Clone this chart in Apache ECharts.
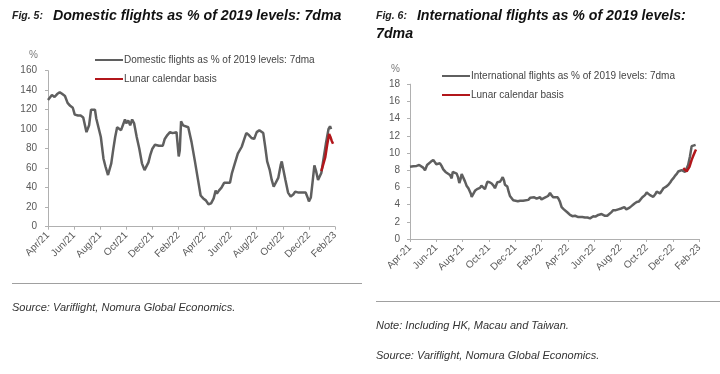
<!DOCTYPE html>
<html>
<head>
<meta charset="utf-8">
<script src="https://cdn.jsdelivr.net/npm/echarts@6/dist/echarts.min.js"></script>
<style>
html,body{margin:0;padding:0;background:#fff;}
#c{width:720px;height:374px;}
</style>
</head>
<body>
<div id="c"></div>
<script>
// ---- Fig. 5: Domestic flights (x = months since Apr 2021) ----
const domMonths = [0,0.15,0.3,0.5,0.7,0.9,1.1,1.3,1.5,1.7,1.9,2.05,2.3,2.5,2.7,2.85,2.95,3.05,3.15,3.3,3.45,3.6,3.7,3.85,4.05,4.25,4.4,4.5,4.6,4.72,4.85,5.0,5.15,5.3,5.45,5.6,5.75,5.9,6.0,6.15,6.3,6.45,6.6,6.8,7.0,7.2,7.4,7.55,7.7,7.85,8.0,8.2,8.5,8.8,8.95,9.15,9.35,9.55,9.7,9.85,9.95,10.02,10.1,10.2,10.35,10.5,10.75,11.0,11.25,11.5,11.7,11.9,12.1,12.3,12.5,12.7,12.85,12.95,13.1,13.3,13.5,13.75,13.95,14.1,14.3,14.55,14.85,15.05,15.2,15.4,15.6,15.8,16.0,16.2,16.35,16.5,16.65,16.8,17.0,17.15,17.3,17.45,17.65,17.85,17.92,18.05,18.2,18.4,18.6,18.8,18.95,19.2,19.45,19.6,19.75,19.9,20.0,20.15,20.3,20.42,20.55,20.7,20.85,20.95,21.1,21.3,21.5,21.62,21.7];
const domValues = [130,132,135,133,136,138,136,134,127,124,122,115,114,114,112,111,97,99,104,120,122,120,111,109,92,70,62,60,53,53,65,79,92,102,101,99,97,110,106,109,104,110,106,92,80,65,58,60,66,74,80,84,83,83,90,94,97,96,94,97,99,72,78,108,104,104,102,87,68,48,32,29,27,23,24,29,37,34,37,40,45,45,45,55,64,75,82,90,96,94,91,90,97,99,100,96,82,67,58,48,41,42,50,64,67,58,48,35,31,33,36,35,35,36,35,30,26,30,48,63,57,48,50,55,68,85,100,103,100];
const domLunarMonths = [20.95,21.1,21.25,21.4,21.55,21.65,21.75,21.85];
const domLunarValues = [57,64,71,84,95,92,88,85];
const domTickLabels = ['Apr/21','Jun/21','Aug/21','Oct/21','Dec/21','Feb/22','Apr/22','Jun/22','Aug/22','Oct/22','Dec/22','Feb/23'];

// ---- Fig. 6: International flights ----
const intlMonths = [0,0.25,0.5,0.7,0.85,1.0,1.14,1.3,1.45,1.6,1.77,1.9,2.0,2.1,2.28,2.4,2.53,2.7,2.85,3.04,3.17,3.25,3.4,3.55,3.65,3.75,3.85,3.93,4.06,4.18,4.3,4.44,4.55,4.62,4.69,4.82,4.94,5.1,5.32,5.43,5.53,5.7,5.88,6.05,6.21,6.35,6.46,6.64,6.84,6.95,7.05,7.15,7.22,7.4,7.5,7.6,7.73,7.85,7.98,8.2,8.37,8.6,8.75,9.0,9.15,9.25,9.45,9.63,9.75,9.89,10.0,10.09,10.25,10.4,10.5,10.65,10.75,10.9,11.05,11.23,11.32,11.4,11.53,11.7,11.84,12.0,12.17,12.35,12.55,12.68,12.8,12.93,13.1,13.31,13.5,13.69,13.8,13.94,14.1,14.32,14.57,14.7,14.83,15.0,15.13,15.3,15.46,15.65,15.84,16.05,16.3,16.45,16.55,16.7,16.86,17.05,17.24,17.4,17.5,17.67,17.87,18.0,18.1,18.25,18.4,18.5,18.65,18.76,18.9,19.01,19.15,19.27,19.45,19.65,19.8,19.9,20.05,20.15,20.3,20.4,20.55,20.66,20.8,20.91,21.04,21.15,21.29,21.42,21.55,21.72];
const intlValues = [8.4,8.45,8.5,8.6,8.55,8.3,8.0,8.6,8.8,9.0,9.2,9.1,8.7,8.6,8.8,8.5,8.1,7.8,7.6,7.45,7.05,7.8,7.7,7.6,7.2,6.5,7.0,7.55,7.6,6.7,6.2,5.9,5.8,5.3,4.9,4.85,5.6,5.8,5.95,6.2,6.0,5.8,6.65,6.6,6.45,6.2,5.9,6.6,6.65,6.9,7.2,6.8,6.3,6.1,5.5,5.0,4.85,4.5,4.35,4.4,4.45,4.45,4.45,4.55,4.8,5.0,4.85,4.7,4.85,4.85,4.6,4.45,4.8,4.85,5.0,5.35,5.1,4.85,4.8,4.85,4.6,4.35,3.7,3.45,3.3,3.05,2.8,2.65,2.7,2.8,2.55,2.5,2.55,2.5,2.5,2.4,2.55,2.65,2.6,2.8,2.9,2.85,2.7,2.7,2.8,3.1,3.35,3.35,3.45,3.55,3.7,3.45,3.45,3.65,3.85,4.1,4.3,4.35,4.45,4.85,5.1,5.4,5.3,5.1,5.0,4.9,5.2,5.5,5.45,5.3,5.6,5.9,6.05,6.3,6.6,6.85,7.1,7.35,7.6,7.85,7.95,8.0,7.9,7.8,8.0,8.6,9.6,10.8,10.85,10.95];
const intlLunarMonths = [20.78,20.9,21.04,21.15,21.25,21.42,21.55,21.67,21.75];
const intlLunarValues = [8.25,8.1,7.85,7.95,8.4,9.2,9.7,10.15,10.4];
const intlTickLabels = ['Apr-21','Jun-21','Aug-21','Oct-21','Dec-21','Feb-22','Apr-22','Jun-22','Aug-22','Oct-22','Dec-22','Feb-23'];

const domName = 'Domestic flights as % of 2019 levels: 7dma';
const intlName = 'International flights as % of 2019 levels: 7dma';
const lunarName = 'Lunar calendar basis';

const FONT = '"Liberation Sans", Arial, sans-serif';
const GRAY = '#5f5f5f';
const RED = '#b2161b';
const AXIS = '#b0b0b0';
const TXT = '#595959';

function pairs(xs, ys){ return xs.map((x,i)=>[x, ys[i]]); }

function xAxisCfg(gridIndex, labels){
  return {
    type:'value', gridIndex, min:0, max:22, interval:2,
    axisLine:{show:true, lineStyle:{color:AXIS, width:1}},
    axisTick:{show:true, length:3, lineStyle:{color:AXIS}},
    splitLine:{show:false},
    axisLabel:{rotate:45, margin:7, fontSize:10, color:TXT, fontFamily:FONT,
      formatter:v=>labels[Math.round(v/2)]}
  };
}
function yAxisCfg(gridIndex, max, interval, margin){
  return {
    type:'value', gridIndex, min:0, max, interval,
    name:'%', nameLocation:'end', nameGap:10,
    nameTextStyle:{fontSize:10, color:'#7a7a7a', fontFamily:FONT, align:'right', padding:[0,10,0,0]},
    axisLine:{show:true, lineStyle:{color:AXIS, width:1}},
    axisTick:{show:true, length:3, lineStyle:{color:AXIS}},
    splitLine:{show:false},
    axisLabel:{margin, fontSize:10, color:TXT, fontFamily:FONT}
  };
}
function lineSeries(name, xi, yi, data, color, z){
  return {name, type:'line', xAxisIndex:xi, yAxisIndex:yi, data, showSymbol:false, symbol:'none',
    smooth:false, lineStyle:{color, width:2.5}, itemStyle:{color}, z, animation:false};
}

const richTitle = {
  a:{fontSize:10.5, fontWeight:'bold', fontStyle:'italic', color:'#222', fontFamily:FONT},
  b:{fontSize:14.2, fontWeight:'bold', fontStyle:'italic', color:'#111', fontFamily:FONT, lineHeight:18}
};
const noteStyle = {fontSize:11, fontWeight:'normal', fontStyle:'italic', color:'#333', fontFamily:FONT};

const chart = echarts.init(document.getElementById('c'), null, {renderer:'canvas'});
chart.setOption({
  backgroundColor:'#fff',
  animation:false,
  title:[
    {left:12, top:7, padding:0, text:'{a|Fig. 5:}  {b|Domestic flights as % of 2019 levels: 7dma}',
      textStyle:{lineHeight:18, rich:richTitle}},
    {left:376, top:7, padding:0, text:'{a|Fig. 6:}  {b|International flights as % of 2019 levels:}\n{b|7dma}',
      textStyle:{lineHeight:18, rich:richTitle}},
    {left:12, top:302, padding:0, text:'Source: Variflight, Nomura Global Economics.', textStyle:noteStyle},
    {left:376, top:320, padding:0, text:'Note: Including HK, Macau and Taiwan.', textStyle:noteStyle},
    {left:376, top:350, padding:0, text:'Source: Variflight, Nomura Global Economics.', textStyle:noteStyle}
  ],
  legend:[
    {left:95, top:54, padding:0, orient:'vertical', itemGap:7, itemWidth:28, itemHeight:2, icon:'rect',
      data:[domName, lunarName], textStyle:{fontSize:10, color:'#444', fontFamily:FONT, padding:[0,0,0,-4], lineHeight:12}},
    {left:442, top:70, padding:0, orient:'vertical', itemGap:7, itemWidth:28, itemHeight:2, icon:'rect',
      data:[intlName, lunarName], textStyle:{fontSize:10, color:'#444', fontFamily:FONT, padding:[0,0,0,-4], lineHeight:12}}
  ],
  grid:[
    {left:48, right:385, top:70.7, bottom:147.3, containLabel:false},
    {left:410, right:20.7, top:84.2, bottom:135, containLabel:false}
  ],
  xAxis:[xAxisCfg(0, domTickLabels), xAxisCfg(1, intlTickLabels)],
  yAxis:[yAxisCfg(0, 160, 20, 11), yAxisCfg(1, 18, 2, 10)],
  series:[
    lineSeries(domName, 0, 0, pairs(domMonths, domValues), GRAY, 2),
    lineSeries(lunarName, 0, 0, pairs(domLunarMonths, domLunarValues), RED, 3),
    lineSeries(intlName, 1, 1, pairs(intlMonths, intlValues), GRAY, 2),
    lineSeries(lunarName, 1, 1, pairs(intlLunarMonths, intlLunarValues), RED, 3)
  ],
  graphic:[
    {type:'line', shape:{x1:12, y1:283.5, x2:362, y2:283.5}, style:{stroke:'#a0a0a0', lineWidth:1}},
    {type:'line', shape:{x1:376, y1:301.5, x2:720, y2:301.5}, style:{stroke:'#a0a0a0', lineWidth:1}}
  ]
});
</script>
</body>
</html>
